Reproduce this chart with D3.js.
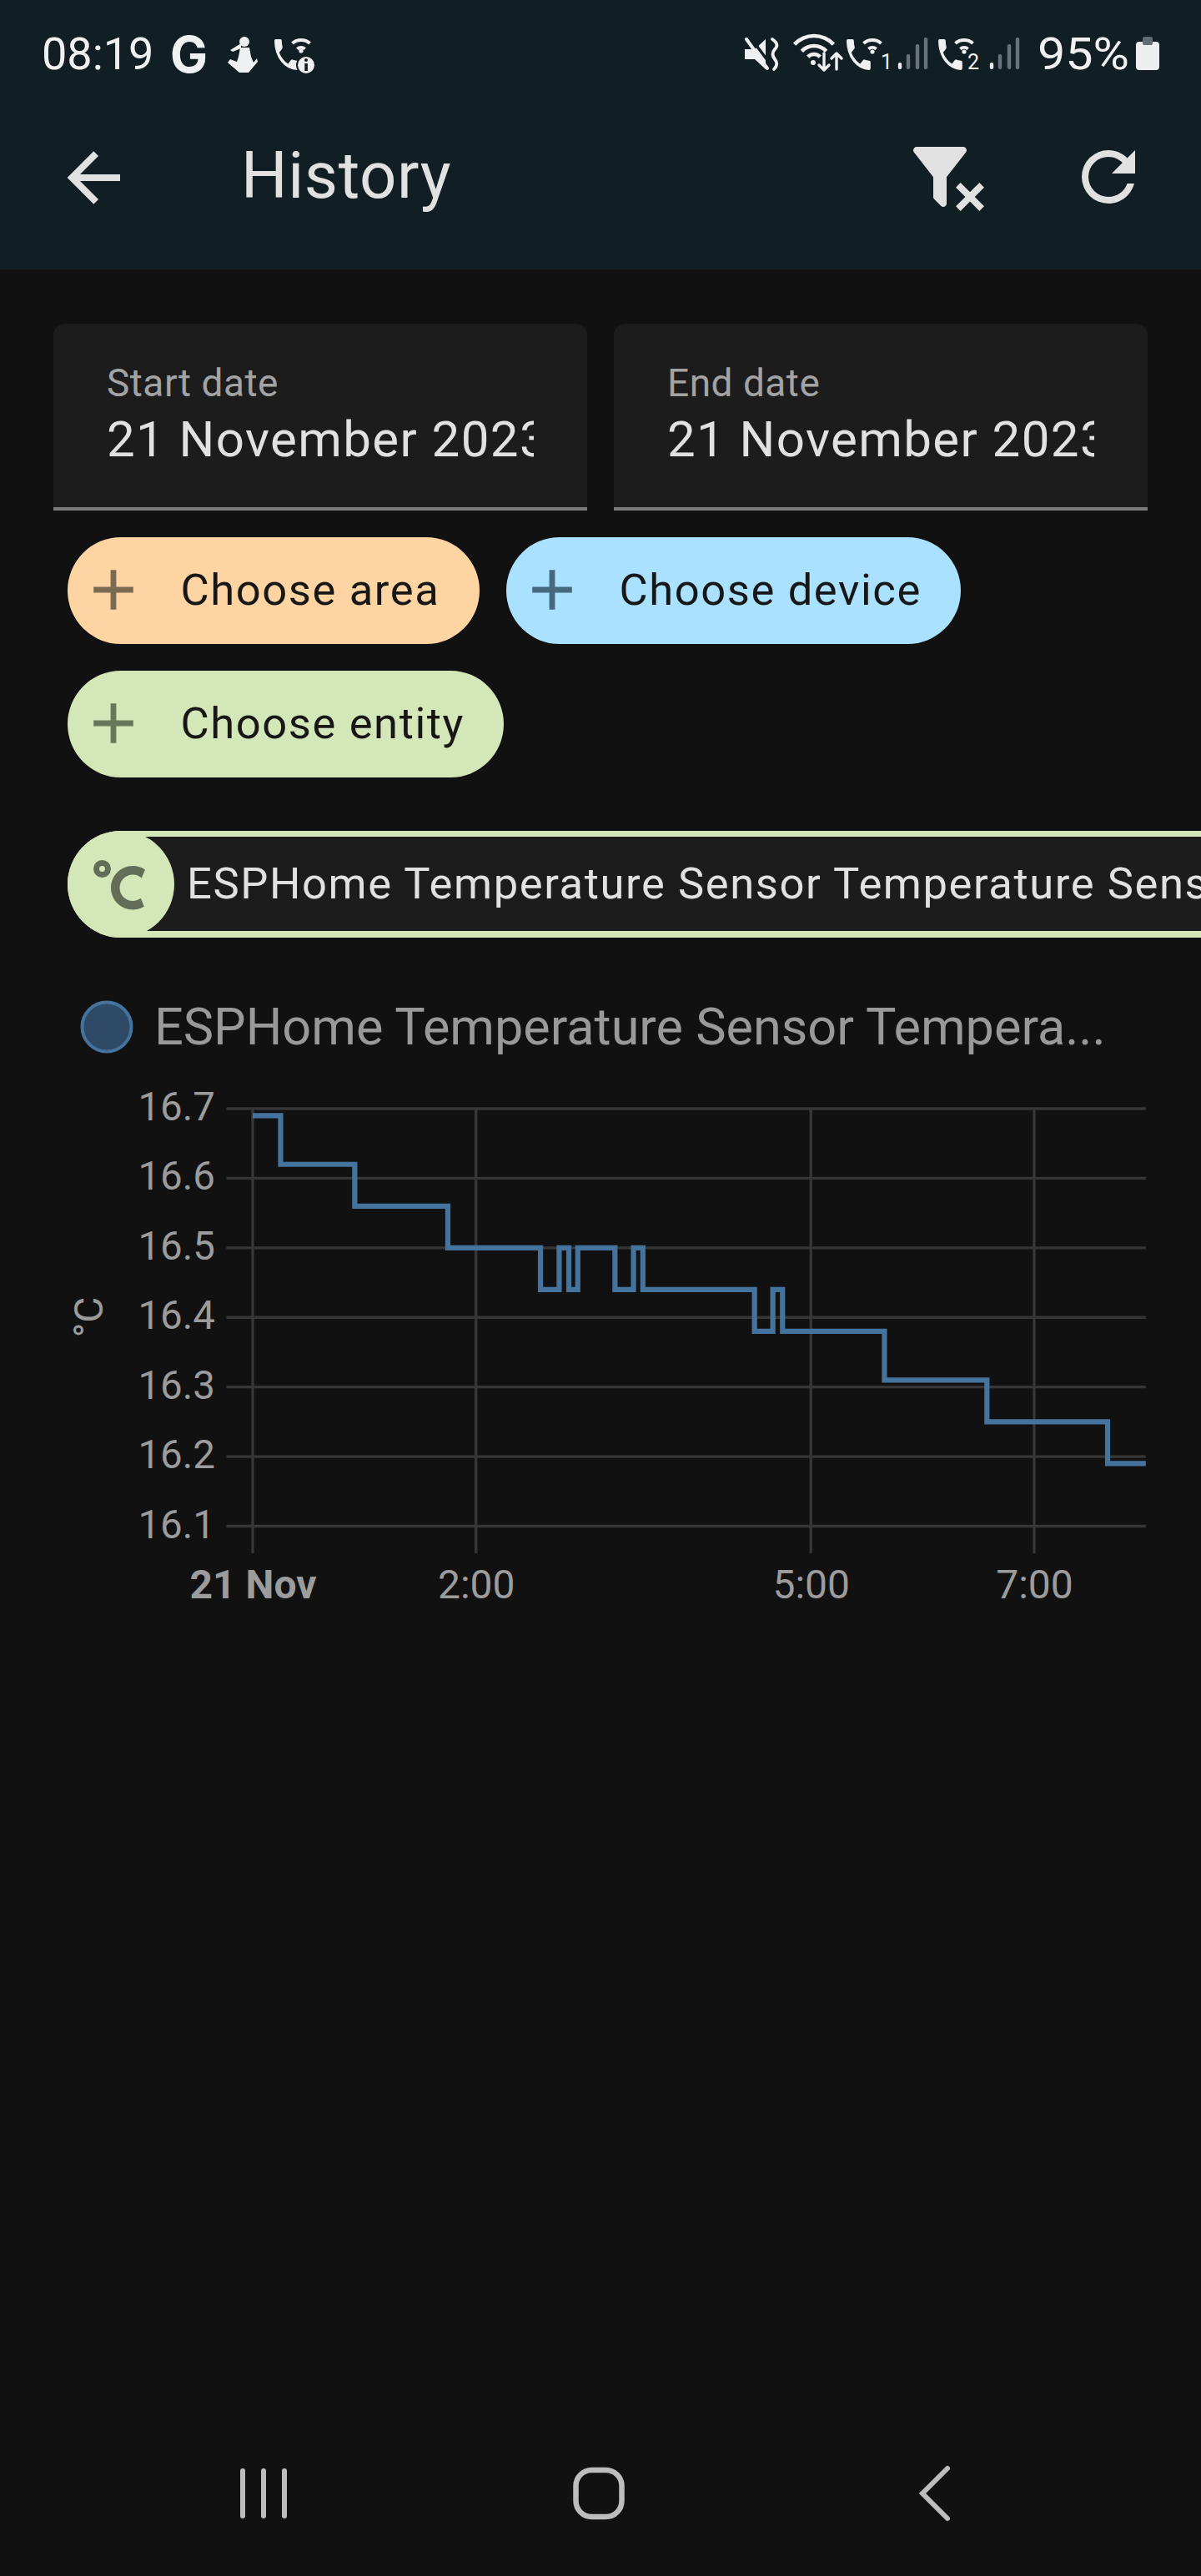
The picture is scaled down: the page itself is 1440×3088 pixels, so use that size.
<!DOCTYPE html>
<html><head><meta charset="utf-8">
<script src="https://cdn.jsdelivr.net/npm/d3@7/dist/d3.min.js"></script>
<style>html,body{margin:0;padding:0;background:#111;overflow:hidden}svg{display:block}text{font-family:Roboto,sans-serif}</style>
</head><body><svg id="c" width="1440" height="3088"></svg>
<script>
// ---- chart data ----
const stepHours  = [0,0.25,0.914,1.748,2.578,2.745,2.832,2.912,3.245,3.411,3.495,4.495,4.659,4.746,5.659,6.577,7.658,8];
const stepValues = [16.69,16.62,16.56,16.5,16.44,16.5,16.44,16.5,16.44,16.5,16.44,16.38,16.44,16.38,16.31,16.25,16.19,16.19];
const yTicks = [16.1,16.2,16.3,16.4,16.5,16.6,16.7];
const xTickHours = [0,2,5,7];
const xTickLabels = ["21 Nov","2:00","5:00","7:00"];
const seriesName = "ESPHome Temperature Sensor Tempera...";
const unit = "°C";
const SERIES = "#44739e";

const P = {
 arrow:"M20,11V13H8L13.5,18.5L12.08,19.92L4.16,12L12.08,4.08L13.5,5.5L8,11H20Z",
 refresh:"M17.65,6.35C16.2,4.9 14.21,4 12,4A8,8 0 0,0 4,12A8,8 0 0,0 12,20C15.73,20 18.84,17.45 19.73,14H17.65C16.83,16.33 14.61,18 12,18A6,6 0 0,1 6,12A6,6 0 0,1 12,6C13.66,6 15.14,6.69 16.22,7.78L13,11H20V4L17.65,6.35Z",
 plus:"M19,13H13V19H11V13H5V11H11V5H13V11H19V13Z",
 filter:"M14.76,20.83L17.6,18L14.76,15.17L16.17,13.76L19,16.57L21.83,13.76L23.24,15.17L20.43,18L23.24,20.83L21.83,22.24L19,19.4L16.17,22.24L14.76,20.83M12,12V19.88C12.04,20.18 11.94,20.5 11.71,20.71C11.32,21.1 10.69,21.1 10.3,20.71L8.29,18.7C8.06,18.47 7.96,18.16 8,17.87V12H7.97L2.21,4.62C1.87,4.19 1.95,3.56 2.38,3.22C2.57,3.08 2.78,3 3,3H17C17.22,3 17.43,3.08 17.62,3.22C18.05,3.56 18.13,4.19 17.79,4.62L12.03,12H12Z",
 celsius:"M16.5,5C18.05,5 19.5,5.47 20.69,6.28L19.53,9.17C18.73,8.44 17.67,8 16.5,8C14,8 12,10 12,12.5C12,15 14,17 16.5,17C17.53,17 18.47,16.66 19.23,16.08L20.37,18.93C19.24,19.61 17.92,20 16.5,20C12.36,20 9,16.64 9,12.5C9,8.36 12.36,5 16.5,5M6,3A3,3 0 0,1 9,6A3,3 0 0,1 6,9A3,3 0 0,1 3,6A3,3 0 0,1 6,3M6,5A1,1 0 0,0 5,6A1,1 0 0,0 6,7A1,1 0 0,0 7,6A1,1 0 0,0 6,5Z",
 phone:"M6.62,10.79C8.06,13.62 10.38,15.94 13.21,17.38L15.41,15.18C15.69,14.9 16.08,14.82 16.43,14.93C17.55,15.3 18.75,15.5 20,15.5A1,1 0 0,1 21,16.5V20A1,1 0 0,1 20,21A17,17 0 0,1 3,4A1,1 0 0,1 4,3H7.5A1,1 0 0,1 8.5,4C8.5,5.25 8.7,6.45 9.07,7.57C9.18,7.92 9.1,8.31 8.82,8.59L6.62,10.79Z"
};
const svg = d3.select("#c");
const defs = svg.append("defs");
function rect(g,x,y,w,h,fill,r){return g.append("rect").attr("x",x).attr("y",y).attr("width",w).attr("height",h).attr("fill",fill).attr("rx",r||0).attr("ry",r||0);}
function text(g,s,x,y,fs,fill,o){o=o||{};const t=g.append("text").attr("x",x).attr("y",y).attr("font-size",fs).attr("fill",fill).text(s);
 if(o.anchor)t.attr("text-anchor",o.anchor);if(o.weight)t.attr("font-weight",o.weight);if(o.ls)t.attr("letter-spacing",o.ls);if(o.font)t.style("font-family",o.font);return t;}
function icon(g,d,x,y,s,fill){return g.append("path").attr("d",d).attr("transform",`translate(${x},${y}) scale(${s})`).attr("fill",fill);}

rect(svg,0,0,1440,3088,"#111111");
// App bar + status bar
const HEAD="#111e24";
rect(svg,0,0,1440,323,HEAD);
const WHITE="#eef0f1", BAR="#e1e1e1";
text(svg,"08:19",50,83,54,WHITE);
text(svg,"G",204,87,60,WHITE,{weight:700,font:"Inter"});
const st=svg.append("g").attr("fill",WHITE);
function arcs(cx,cy,rs,sw,a){rs.forEach(r=>st.append("path").attr("d",d3.arc()({innerRadius:r-sw/2,outerRadius:r+sw/2,startAngle:-a,endAngle:a})).attr("transform",`translate(${cx},${cy})`));}
function strokeP(d,w,c){return st.append("path").attr("d",d).attr("fill","none").attr("stroke",c||WHITE).attr("stroke-width",w).attr("stroke-linecap","round").attr("stroke-linejoin","round");}
function phoneIcon(x,y){st.append("path").attr("d",P.phone).attr("transform",`translate(${x-3*1.6},${y-3*2.05}) scale(1.6,2.05)`);}
// runner figure
st.append("circle").attr("cx",293).attr("cy",50).attr("r",6);
st.append("path").attr("d","M289,52 L276,60 L279,62 L289,58Z");
st.append("path").attr("d","M288,57 L299,57 L301,68 L304,75 L308,70 L309,74 L298,87 L287,87 L273,75 L276,71 L284,74 L286,68Z");
// wifi call with info badge
phoneIcon(329,47);
arcs(361,64,[7,16],4,0.72);
st.append("circle").attr("cx",361).attr("cy",61).attr("r",2.6);
st.append("circle").attr("cx",367).attr("cy",78).attr("r",11).attr("stroke",HEAD).attr("stroke-width",2);
rect(st,365.3,76,3.6,9,HEAD);
st.append("circle").attr("cx",367).attr("cy",72).attr("r",2).attr("fill",HEAD);
// mute
st.append("path").attr("d","M893,59 L905,59 L918,47 L918,83 L905,71 L893,71Z");
strokeP("M899,44 L926,80",3.5,HEAD);
strokeP("M895,47 L920,82",4);
strokeP("M926,47 Q935,53 929,59 Q924,65 929,71 Q934,77 928,83",3.8);
// wifi up/down
arcs(976,75,[32,20,10],4.6,0.82);
st.append("circle").attr("cx",975).attr("cy",75).attr("r",3);
strokeP("M988,64 V84 M982,78 L988,84 L994,78",3.4);
strokeP("M1003,83 V64 M997,70 L1003,64 L1009,70",3.4);
// SIM 1 and SIM 2 signal blocks
[[0,"1",1056],[110,"2",1160]].forEach(([dx,lab,lx])=>{
  phoneIcon(1015+dx,47);
  arcs(1046+dx,64,[7,16],4,0.72);
  st.append("circle").attr("cx",1046+dx).attr("cy",62).attr("r",2.6);
  text(svg,lab,lx,83,25,WHITE);
  [[1079,75],[1089,65],[1100,53],[1110,45]].forEach(([bx,by],i)=>rect(st,bx-2.2+dx,by,4.4,83-by,i<1?"#e8eaeb":"#69727a",2));
});
text(svg,"95%",1244,83,54,WHITE).attr("textLength",110).attr("lengthAdjust","spacingAndGlyphs");
rect(svg,1362,50,28,34,"#eceef0",4);
rect(svg,1370,44,12,10,"#626b70",2);

icon(svg,P.arrow,64,165,4,BAR);
text(svg,"History",289,237,78,BAR,{ls:0.6});
icon(svg,P.filter,1087,164,4,BAR);
icon(svg,P.refresh,1281,164,4,BAR);

// date fields
[[64,"Start date"],[736,"End date"]].forEach(([x,lab],i)=>{
  rect(svg,x,388,640,60,"#1c1c1c",14);
  rect(svg,x,402,640,206,"#1c1c1c");
  rect(svg,x,608,640,4,"#7c7c7c");
  text(svg,lab,x+64,475,46,"#a3a3a3",{ls:0.5});
  defs.append("clipPath").attr("id","cl"+i).append("rect").attr("x",x+60).attr("y",480).attr("width",516).attr("height",90);
  text(svg,"21 November 2023",x+64,547,60,"#e1e1e1",{ls:1.4}).attr("clip-path",`url(#cl${i})`);
});
// chips
[[81,644,494,"#ffd4a3","Choose area","#7b6a52"],[607,644,545,"#a9e1ff","Choose device","#46697e"],[81,804,523,"#d3e7b9","Choose entity","#67785a"]].forEach(([x,y,w,f,s,c])=>{
  rect(svg,x,y,w,128,f,64);
  icon(svg,P.plus,x+55-12*3.4,y+63-12*3.4,3.4,c);
  text(svg,s,x+135.5,y+81,52.5,"#171717",{ls:1.6});
});
// selected entity chip
rect(svg,81,996,1500,128,"#d3e7b9",64);
rect(svg,145,1003,1400,113,"#1c1c1c");
svg.append("circle").attr("cx",145).attr("cy",1060).attr("r",64).attr("fill","#d3e7b9");
icon(svg,P.celsius,101.5,1020.5,3.5,"#626f56");
text(svg,"ESPHome Temperature Sensor Temperature Sensor",224,1077,52.5,"#e1e1e1",{ls:1.6});

// legend
svg.append("circle").attr("cx",128).attr("cy",1231).attr("r",29.5).attr("fill","#2f4a66").attr("stroke",SERIES).attr("stroke-width",4);
text(svg,seriesName,185,1252,61.2,"#999999");

// chart
const x=d3.scaleLinear().domain([0,8]).range([303,1373.8]);
const y=d3.scaleLinear().domain([16.1,16.7]).range([1829.5,1329]);
const GRID="#363636", LAB="#9c9c9c", LFS=47.5;
const yAxis=d3.axisLeft(y).tickValues(yTicks).tickFormat(d3.format(".1f")).tickSize(0).tickPadding(13.5);
const gy=svg.append("g").attr("transform","translate(271.5,0)").call(yAxis);
gy.select(".domain").remove();
gy.selectAll("text").attr("font-size",LFS).attr("fill",LAB).attr("font-family","Roboto").attr("dy",null).attr("y",13.5);
const gridH=svg.append("g");
gridH.selectAll("line").data(yTicks).join("line").attr("x1",271.5).attr("x2",1373.8).attr("y1",d=>y(d)).attr("y2",d=>y(d)).attr("stroke",GRID).attr("stroke-width",3.4);
const xAxis=d3.axisBottom(x).tickValues(xTickHours).tickFormat((d,i)=>xTickLabels[i]).tickSize(0).tickPadding(0);
const gx=svg.append("g").attr("transform","translate(0,1862)").call(xAxis);
gx.select(".domain").remove();
gx.selectAll("text").attr("font-size",LFS+0.5).attr("fill",LAB).attr("font-family","Roboto").attr("dy",null).attr("y",54).attr("font-weight",(d,i)=>i==0?700:400);
const gridV=svg.append("g");
gridV.selectAll("line").data(xTickHours).join("line").attr("x1",d=>x(d)).attr("x2",d=>x(d)).attr("y1",1329).attr("y2",1862).attr("stroke",GRID).attr("stroke-width",3.4);
svg.append("text").attr("transform","translate(123,1579) rotate(-90)").attr("text-anchor","middle").attr("font-size",LFS+0.5).attr("fill",LAB).text(unit);
const line=d3.line().x((d,i)=>x(stepHours[i])).y(d=>y(d)).curve(d3.curveStepAfter);
svg.append("path").attr("d",line(stepValues)).attr("fill","none").attr("stroke",SERIES).attr("stroke-width",6.2).attr("stroke-linejoin","miter");

// nav bar
const NAV="#bdbdbd";
[291,316,341].forEach(v=>rect(svg,v-3,2959,6,60,NAV,3));
svg.append("rect").attr("x",690.5).attr("y",2961).attr("width",55).attr("height",56).attr("rx",19).attr("fill","none").attr("stroke",NAV).attr("stroke-width",6.5);
svg.append("path").attr("d","M1136,2959 L1106,2989 L1136,3019").attr("fill","none").attr("stroke",NAV).attr("stroke-width",6).attr("stroke-linecap","round");
</script></body></html>
